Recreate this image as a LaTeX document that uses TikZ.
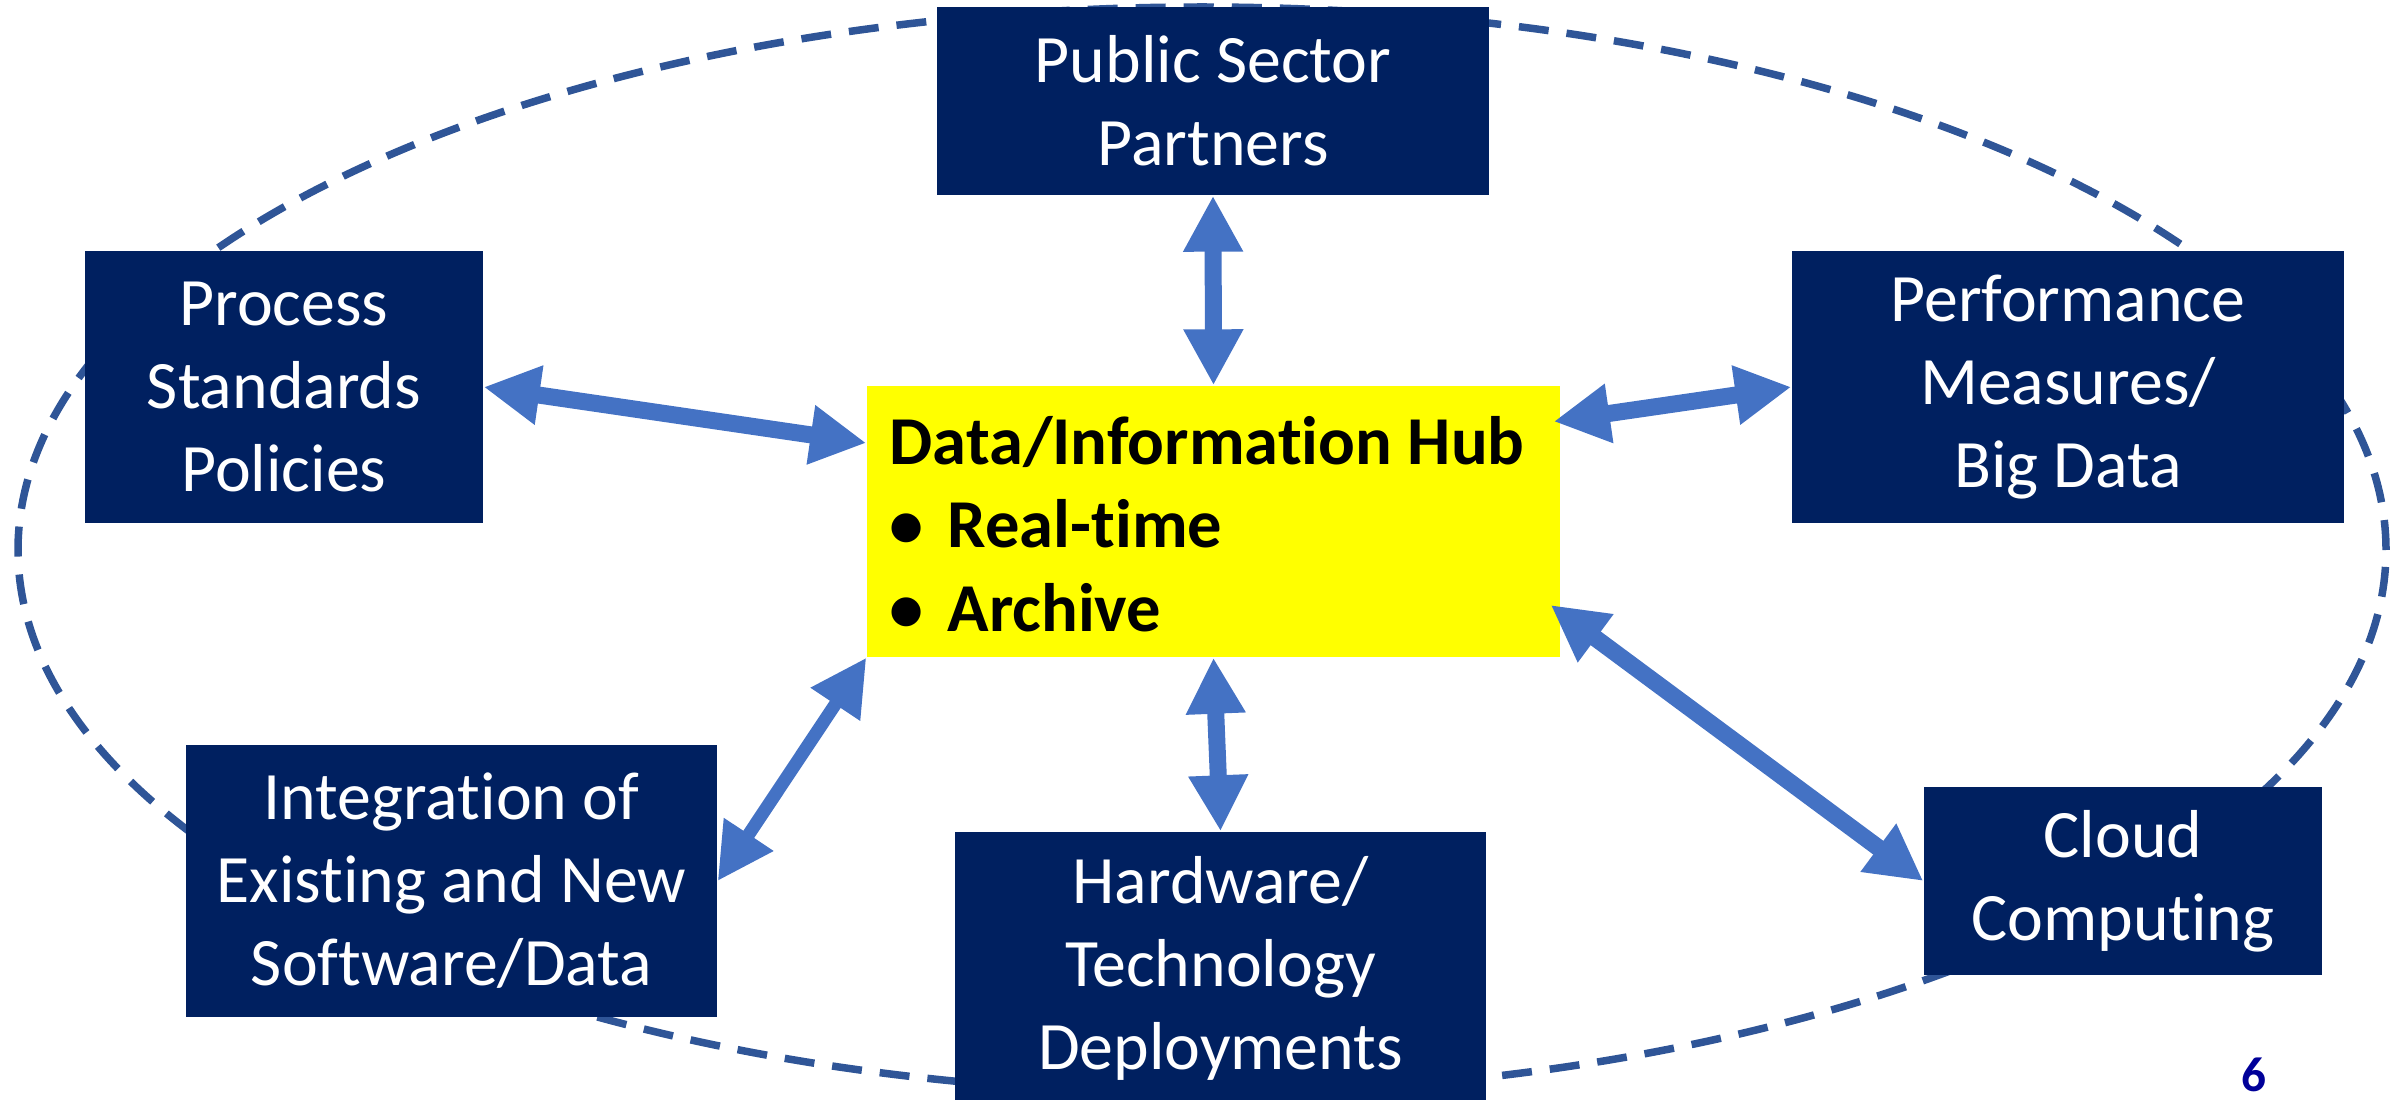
\documentclass[tikz,border=0pt]{standalone}
\usepackage{fontspec}
\setmainfont[Ligatures={NoCommon}]{Carlito}
\usetikzlibrary{arrows.meta,calc}
\definecolor{navy}{HTML}{002060}
\definecolor{arrowblue}{HTML}{4472C4}
\definecolor{ellblue}{HTML}{2F5597}
\definecolor{numblue}{HTML}{000099}
\definecolor{hubyellow}{HTML}{FFFF00}
\begin{document}
\begin{tikzpicture}[
  darkbox/.style={fill=navy, text=white, align=center, inner sep=0pt,
    font=\fontsize{19.3}{23.6}\selectfont},
  hubbox/.style={fill=hubyellow, inner sep=0pt},
  hubtext/.style={align=left, inner sep=0pt, font=\fontsize{19.5}{23.8}\selectfont\bfseries},
  link/.style={draw=arrowblue, line width=0.17cm,
    {Triangle[length=0.56cm,width=0.56cm]}-{Triangle[length=0.56cm,width=0.56cm]}},
  ring/.style={draw=ellblue, line width=0.075cm, dash pattern=on 0.3cm off 0.18cm},
  pagenum/.style={text=numblue, font=\fontsize{14}{16}\selectfont\bfseries, inner sep=0pt}
]
\useasboundingbox (0,0) rectangle (24.04,10.99);
\draw[ring] (12.02,5.49) ellipse [x radius=11.84cm, y radius=5.43cm];

\node[darkbox, minimum width=5.52cm, minimum height=1.88cm] (pub) at (12.13,9.98) {Public Sector\\Partners};
\node[darkbox, minimum width=3.98cm, minimum height=2.72cm] (proc) at (2.84,7.12) {Process\\Standards\\Policies};
\node[darkbox, minimum width=5.52cm, minimum height=2.72cm] (perf) at (20.68,7.12) {Performance\\Measures/\\Big Data};
\node[hubbox, minimum width=6.93cm, minimum height=2.71cm] (hub) at (12.135,5.775) {};
\node[hubtext, anchor=west] (hubt) at (8.89,5.75) {Data/Information Hub\\\makebox[0.58cm][l]{\textbullet}Real-time\\\makebox[0.58cm][l]{\textbullet}Archive};
\node[darkbox, minimum width=5.31cm, minimum height=2.72cm] (integ) at (4.515,2.18) {Integration of\\Existing and New\\Software/Data};
\node[darkbox, minimum width=5.31cm, minimum height=2.72cm] (hw) at (12.205,1.31) {Hardware/\\Technology\\Deployments};
\node[darkbox, minimum width=3.98cm, minimum height=1.88cm] (cloud) at (21.23,2.18) {Cloud\\Computing};
\node[pagenum] (num) at (22.54,0.24) {6};

\draw[link] (pub.south) -- (hub.north);
\draw[link] (proc.east) -- ([yshift=0.785cm]hub.west);
\draw[link] ([xshift=-0.07cm,yshift=1.0cm]hub.east) -- (perf.west);
\draw[link, line width=0.13cm] (hub.south west) -- (integ.east);
\draw[link] (hub.south) -- (hw.north);
\draw[link] ([xshift=-0.1cm,yshift=-0.835cm]hub.east) -- (cloud.west);
\end{tikzpicture}
\end{document}
